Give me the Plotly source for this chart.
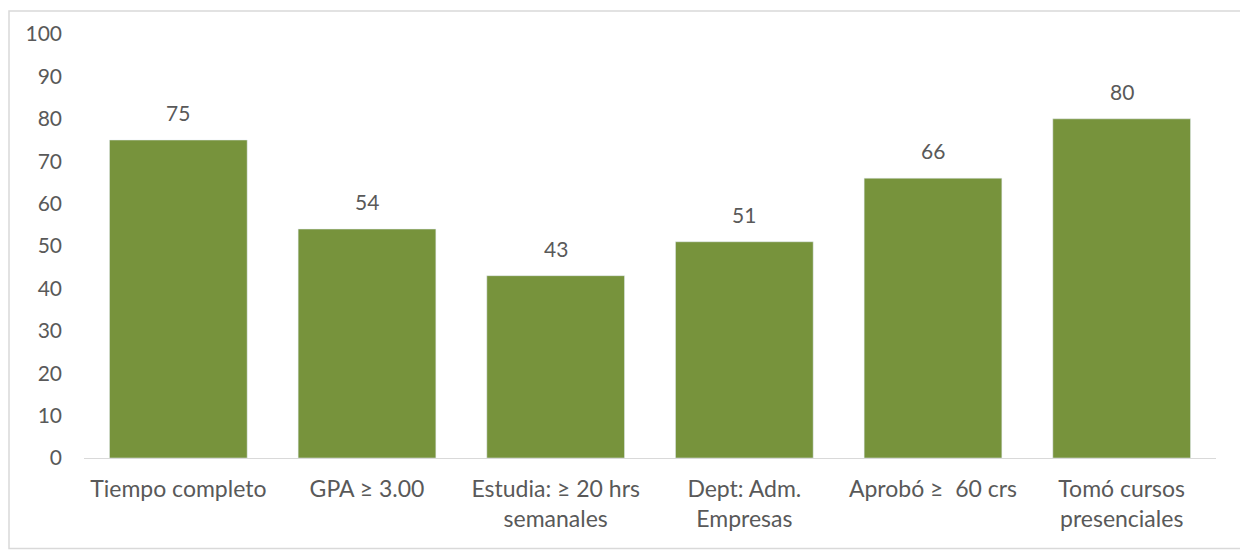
import plotly.graph_objects as go

categories = [
    "Tiempo completo",
    "GPA ≥ 3.00",
    "Estudia: ≥ 20 hrs<br>semanales",
    "Dept: Adm.<br>Empresas",
    "Aprobó ≥  60 crs",
    "Tomó cursos<br>presenciales",
]
values = [75, 54, 43, 51, 66, 80]
y_ticks = [0, 10, 20, 30, 40, 50, 60, 70, 80, 90, 100]

# the page body adds an 8px offset, so work in figure coords = page - 8
off = 8
W, H = 1248, 552
ml, mt = 84 - off, 32 - off
plot_right, plot_bottom = 1216 - off, 458 - off
mr, mb = W - plot_right, H - plot_bottom
pw, ph = plot_right - ml, plot_bottom - mt

text_color = "#595959"
font_family = "Lato, Open Sans, sans-serif"
fsize = 21

fig = go.Figure(go.Bar(
    x=categories,
    y=values,
    marker=dict(color="#77933C"),
    width=0.73,
    hoverinfo="x+y",
))

for c, v in zip(categories, values):
    fig.add_annotation(
        x=c, y=v, text=str(v), showarrow=False,
        yanchor="bottom", yshift=13,
        font=dict(size=fsize, color=text_color, family=font_family),
    )

# outer border of the chart (left/top clipped by the page offset, keep at edge)
fig.add_shape(
    type="rect", xref="paper", yref="paper",
    x0=(1 - ml) / pw, x1=(1235 - ml) / pw,
    y0=(plot_bottom - 541) / ph, y1=(plot_bottom - 1) / ph,
    line=dict(color="#D9D9D9", width=1.5),
    fillcolor="rgba(0,0,0,0)", layer="below",
)

fig.update_layout(
    width=W, height=H,
    margin=dict(l=ml, r=mr, t=mt, b=mb),
    plot_bgcolor="white",
    paper_bgcolor="white",
    showlegend=False,
    font=dict(family=font_family, size=fsize, color=text_color),
    xaxis=dict(
        showgrid=False,
        showline=True, linecolor="#D9D9D9", linewidth=1,
        ticks="", ticklabelstandoff=10,
        tickfont=dict(size=23, color=text_color),
    ),
    yaxis=dict(
        range=[0, 100],
        tickvals=y_ticks,
        showgrid=False, zeroline=False, showline=False,
        ticks="", ticklabelstandoff=21,
        tickfont=dict(size=fsize, color=text_color),
    ),
)

fig.write_html("out.html")
